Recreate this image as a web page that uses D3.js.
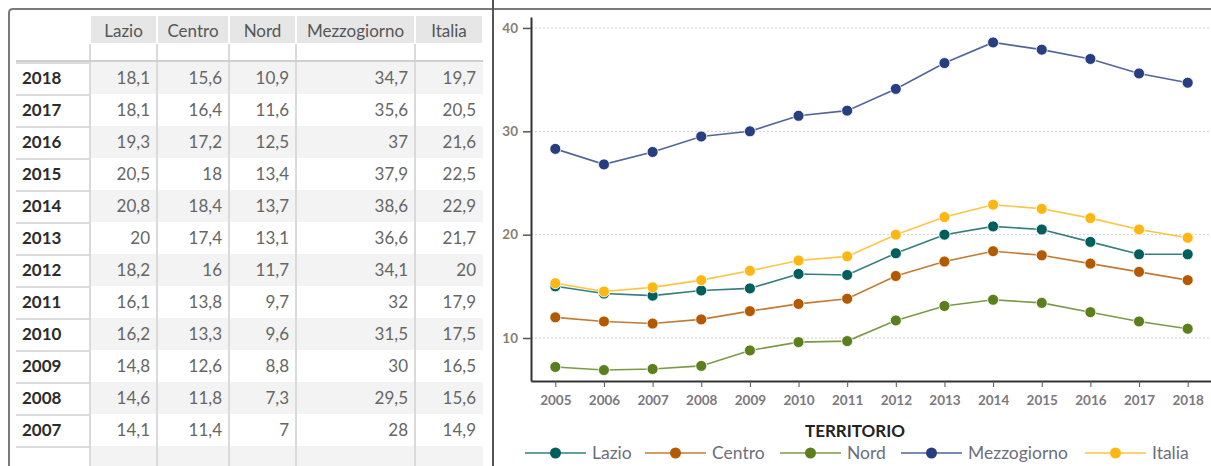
<!DOCTYPE html>
<html>
<head>
<meta charset="utf-8">
<script src="https://cdn.jsdelivr.net/npm/d3@7"></script>
<style>
  body { margin: 0; background: #fff; }
  svg { display: block; font-family: Lato, "Open Sans", sans-serif; }
</style>
</head>
<body>
<svg id="chart" width="1211" height="466"></svg>
<script>
// data
const years = [2005, 2006, 2007, 2008, 2009, 2010, 2011, 2012, 2013, 2014, 2015, 2016, 2017, 2018];
const lazio       = [15.0, 14.3, 14.1, 14.6, 14.8, 16.2, 16.1, 18.2, 20, 20.8, 20.5, 19.3, 18.1, 18.1];
const centro      = [12.0, 11.6, 11.4, 11.8, 12.6, 13.3, 13.8, 16, 17.4, 18.4, 18, 17.2, 16.4, 15.6];
const nord        = [7.2, 6.9, 7, 7.3, 8.8, 9.6, 9.7, 11.7, 13.1, 13.7, 13.4, 12.5, 11.6, 10.9];
const mezzogiorno = [28.3, 26.8, 28, 29.5, 30, 31.5, 32, 34.1, 36.6, 38.6, 37.9, 37, 35.6, 34.7];
const italia      = [15.3, 14.5, 14.9, 15.6, 16.5, 17.5, 17.9, 20, 21.7, 22.9, 22.5, 21.6, 20.5, 19.7];
const tableYears = [2018, 2017, 2016, 2015, 2014, 2013, 2012, 2011, 2010, 2009, 2008, 2007];
const yTicks = [10, 20, 30, 40];
const axisTitle = "TERRITORIO";

const series = [
    {name: "Lazio", values: lazio, color: "#005f5c"},
    {name: "Centro", values: centro, color: "#b35a00"},
    {name: "Nord", values: nord, color: "#5b7f1c"},
    {name: "Mezzogiorno", values: mezzogiorno, color: "#273f80"},
    {name: "Italia", values: italia, color: "#fdb713"}
];

const svg = d3.select("#chart");
const fmt = v => String(v).replace(".", ",");

// frame
svg.append("path")
    .attr("d", "M9,466 L9,13 Q9,9 13,9 L1211,9")
    .attr("fill", "none").attr("stroke", "#7a7a7a").attr("stroke-width", 2);
svg.append("line")
    .attr("x1", 493).attr("x2", 493).attr("y1", 0).attr("y2", 466)
    .attr("stroke", "#555").attr("stroke-width", 2);

// ---------- table ----------
const colEdges = [90, 157, 229, 296, 415, 483];
const table = svg.append("g").attr("class", "table");
const rowY = d3.scaleBand().domain(tableYears).range([62, 446]);

// header cells
series.forEach((s, i) => {
    const x0 = colEdges[i], x1 = colEdges[i + 1];
    table.append("rect")
        .attr("x", x0 + 1).attr("y", 16)
        .attr("width", x1 - x0 - 2).attr("height", 27)
        .attr("fill", "#e6e6e6");
    table.append("text")
        .attr("x", (x0 + x1) / 2).attr("y", 31)
        .attr("dy", "0.35em").attr("text-anchor", "middle")
        .attr("fill", "#555").style("font-size", "17px")
        .text(s.name);
});

// striped rows
tableYears.forEach((yr, r) => {
    if (r % 2 === 0) {
        table.append("rect")
            .attr("x", 91).attr("y", rowY(yr))
            .attr("width", 392).attr("height", rowY.bandwidth())
            .attr("fill", "#f3f3f3");
    }
    table.append("line")
        .attr("x1", 16).attr("x2", 90)
        .attr("y1", rowY(yr) + 1).attr("y2", rowY(yr) + 1)
        .attr("stroke", "#dcdcdc").attr("stroke-width", 2);
    table.append("text")
        .attr("x", 22).attr("y", rowY(yr) + rowY.bandwidth() / 2)
        .attr("dy", "0.35em").attr("fill", "#2b2b2b")
        .style("font-size", "17px").style("font-weight", "bold")
        .text(yr);
    series.forEach((s, i) => {
        const v = s.values[years.indexOf(yr)];
        table.append("text")
            .attr("x", colEdges[i + 1] - 7)
            .attr("y", rowY(yr) + rowY.bandwidth() / 2)
            .attr("dy", "0.35em").attr("text-anchor", "end")
            .attr("fill", "#666").style("font-size", "17px")
            .text(fmt(v));
    });
});
// trailing empty row
table.append("rect")
    .attr("x", 91).attr("y", 446).attr("width", 392).attr("height", 20)
    .attr("fill", "#f3f3f3");
table.append("line")
    .attr("x1", 16).attr("x2", 90).attr("y1", 447).attr("y2", 447)
    .attr("stroke", "#dcdcdc").attr("stroke-width", 2);

// column separators and header underline
colEdges.slice(0, 5).forEach(x => {
    table.append("line")
        .attr("x1", x).attr("x2", x).attr("y1", 44).attr("y2", 466)
        .attr("stroke", "#dadada").attr("stroke-width", 2);
});
table.append("line")
    .attr("x1", 16).attr("x2", 483).attr("y1", 61).attr("y2", 61)
    .attr("stroke", "#d0d0d0").attr("stroke-width", 2);

// ---------- line chart ----------
const x = d3.scalePoint().domain(years).range([531, 1212]).padding(0.5);
const y = d3.scaleLinear().domain([5.84, 41.06]).range([381, 17]);

const chart = svg.append("g").attr("class", "linechart");

chart.selectAll(".grid")
    .data(yTicks)
    .enter().append("line")
    .attr("class", "grid")
    .attr("x1", 531).attr("x2", 1211)
    .attr("y1", d => y(d)).attr("y2", d => y(d))
    .attr("stroke", "#cfcfcf").attr("stroke-dasharray", "2,2");

const yAxis = chart.append("g")
    .attr("transform", "translate(531,0)")
    .call(d3.axisLeft(y).tickValues(yTicks).tickSize(8).tickSizeOuter(0).tickPadding(5));
yAxis.select(".domain").attr("stroke", "#333").attr("stroke-width", 2);
yAxis.selectAll(".tick line").attr("stroke", "#555").attr("stroke-width", 1.5);
yAxis.selectAll(".tick text")
    .attr("fill", "#8a7e70").style("font-size", "13.5px").style("font-weight", "bold")
    .style("font-family", "Lato, sans-serif");

const xAxis = chart.append("g")
    .attr("transform", "translate(0,381)")
    .call(d3.axisBottom(x).tickSize(6).tickSizeOuter(0).tickPadding(8));
xAxis.select(".domain").attr("stroke", "#333").attr("stroke-width", 2);
xAxis.selectAll(".tick line").attr("stroke", "#555");
xAxis.selectAll(".tick text")
    .attr("fill", "#7c7880").style("font-size", "13.5px").style("font-weight", "bold")
    .style("font-family", "Lato, sans-serif");

chart.append("text")
    .attr("x", 855).attr("y", 431).attr("dy", "0.35em")
    .attr("text-anchor", "middle").attr("fill", "#222")
    .style("font-size", "17px").style("font-weight", "bold")
    .text(axisTitle);

const line = d3.line()
    .x((d, i) => x(years[i]))
    .y(d => y(d));

const groups = chart.selectAll(".series")
    .data(series)
    .enter().append("g")
    .attr("class", "series");

groups.append("path")
    .attr("d", d => line(d.values))
    .attr("fill", "none")
    .attr("stroke", d => d.color)
    .attr("stroke-opacity", 0.8)
    .attr("stroke-width", 1.6);

groups.each(function(s) {
    d3.select(this).selectAll("circle")
        .data(s.values)
        .enter().append("circle")
        .attr("cx", (d, i) => x(years[i]))
        .attr("cy", d => y(d))
        .attr("r", 5.5)
        .attr("fill", s.color)
        .attr("stroke", "#fff")
        .attr("stroke-width", 0.8);
});

// legend
const legendX = [525, 645, 780, 901, 1085];
const legend = chart.selectAll(".legend")
    .data(series)
    .enter().append("g")
    .attr("class", "legend")
    .attr("transform", (d, i) => "translate(" + legendX[i] + ",453)");
legend.append("line")
    .attr("x1", 0).attr("x2", 61)
    .attr("stroke", d => d.color).attr("stroke-opacity", 0.8).attr("stroke-width", 1.6);
legend.append("circle")
    .attr("cx", 30.5).attr("r", 5.5)
    .attr("fill", d => d.color);
legend.append("text")
    .attr("x", 67).attr("dy", "0.35em")
    .attr("fill", "#6e6e7c").style("font-size", "17.5px")
    .text(d => d.name);
</script>
</body>
</html>
